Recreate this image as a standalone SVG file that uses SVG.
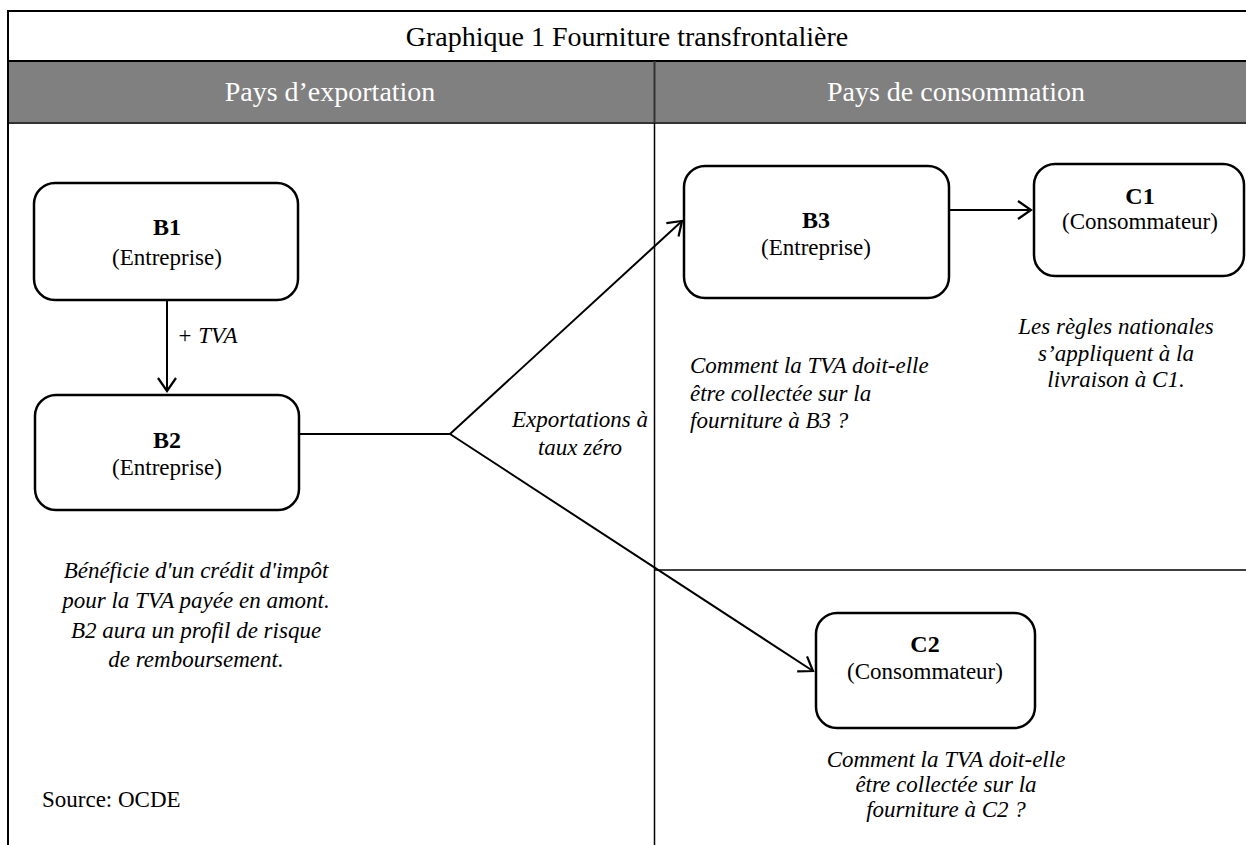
<svg xmlns="http://www.w3.org/2000/svg" width="1246" height="845" viewBox="0 0 1246 845">
<style>
  text { font-family: "Liberation Serif", "Times New Roman", serif; fill: #000; }
  .title { font-size: 28px; text-anchor: middle; }
  .hdr { font-size: 28px; fill: #fff; text-anchor: middle; }
  .nb { font-size: 24px; font-weight: bold; text-anchor: middle; }
  .nt { font-size: 23px; text-anchor: middle; }
  .it { font-size: 23px; font-style: italic; }
  .mid { text-anchor: middle; }
  .box { fill: #fff; stroke: #000; stroke-width: 2.5; }
  .frame { stroke: #000; stroke-width: 2; fill: none; }
  .conn { stroke: #000; stroke-width: 2; fill: none; }
</style>
<defs>
  <marker id="arr" markerUnits="userSpaceOnUse" markerWidth="30" markerHeight="30" viewBox="-15 -15 30 30" refX="0" refY="0" orient="auto">
    <path d="M-13,-9 L0,0 L-13,9" fill="none" stroke="#000" stroke-width="2.2"/>
  </marker>
</defs>
<rect x="0" y="0" width="1246" height="845" fill="#fff"/>
<g id="frame">
  <rect x="8" y="61" width="1240" height="62" fill="#808080"/>
  <line class="frame" x1="8" y1="11" x2="1246" y2="11"/>
  <line class="frame" x1="8" y1="61" x2="1246" y2="61"/>
  <line x1="8" y1="123" x2="1246" y2="123" stroke="#333" stroke-width="2"/>
  <line class="frame" x1="8" y1="10" x2="8" y2="845"/>
  <line x1="654.5" y1="61" x2="654.5" y2="123" stroke="#333" stroke-width="2"/>
  <line x1="654.5" y1="123" x2="654.5" y2="845" stroke="#000" stroke-width="1.5"/>
  <line x1="654" y1="570" x2="1246" y2="570" stroke="#000" stroke-width="1.5"/>
  <text class="title" x="627" y="46">Graphique 1 Fourniture transfrontalière</text>
  <text class="hdr" x="330" y="101">Pays d’exportation</text>
  <text class="hdr" x="956" y="101">Pays de consommation</text>
</g>
<g id="connectors">
  <line class="conn" x1="167" y1="300" x2="167" y2="391" marker-end="url(#arr)"/>
  <polyline class="conn" points="299,434 450,434"/>
  <line class="conn" x1="450" y1="434" x2="682" y2="221" marker-end="url(#arr)"/>
  <line class="conn" x1="450" y1="434" x2="813" y2="671" marker-end="url(#arr)"/>
  <line class="conn" x1="949" y1="210" x2="1031" y2="210" marker-end="url(#arr)"/>
  <text class="it" x="177" y="343">+ TVA</text>
  <text class="it mid" x="580" y="427">Exportations à</text>
  <text class="it mid" x="580" y="455">taux zéro</text>
</g>
<g id="B1">
  <rect class="box" x="34" y="183" width="264" height="117" rx="21"/>
  <text class="nb" x="167" y="235">B1</text>
  <text class="nt" x="167" y="265">(Entreprise)</text>
</g>
<g id="B2">
  <rect class="box" x="35" y="395" width="264" height="115" rx="21"/>
  <text class="nb" x="167" y="448">B2</text>
  <text class="nt" x="167" y="475">(Entreprise)</text>
  <text class="it mid" x="196" y="578">Bénéficie d'un crédit d'impôt</text>
  <text class="it mid" x="196" y="608">pour la TVA payée en amont.</text>
  <text class="it mid" x="196" y="638">B2 aura un profil de risque</text>
  <text class="it mid" x="196" y="667">de remboursement.</text>
</g>
<g id="B3">
  <rect class="box" x="684" y="166" width="265" height="132" rx="21"/>
  <text class="nb" x="816" y="228">B3</text>
  <text class="nt" x="816" y="255">(Entreprise)</text>
  <text class="it" x="690" y="373">Comment la TVA doit-elle</text>
  <text class="it" x="690" y="401">être collectée sur la</text>
  <text class="it" x="690" y="428">fourniture à B3 ?</text>
</g>
<g id="C1">
  <rect class="box" x="1034" y="164" width="210" height="112" rx="21"/>
  <text class="nb" x="1140" y="204">C1</text>
  <text class="nt" x="1140" y="229">(Consommateur)</text>
  <text class="it mid" x="1116" y="334">Les règles nationales</text>
  <text class="it mid" x="1116" y="361">s’appliquent à la</text>
  <text class="it mid" x="1116" y="387">livraison à C1.</text>
</g>
<g id="C2">
  <rect class="box" x="816" y="613" width="219" height="115" rx="21"/>
  <text class="nb" x="925" y="652">C2</text>
  <text class="nt" x="925" y="679">(Consommateur)</text>
  <text class="it mid" x="946" y="767">Comment la TVA doit-elle</text>
  <text class="it mid" x="946" y="792">être collectée sur la</text>
  <text class="it mid" x="946" y="817">fourniture à C2 ?</text>
</g>
<g id="source">
  <text style="font-size:23px" x="42" y="807">Source: OCDE</text>
</g>
</svg>
